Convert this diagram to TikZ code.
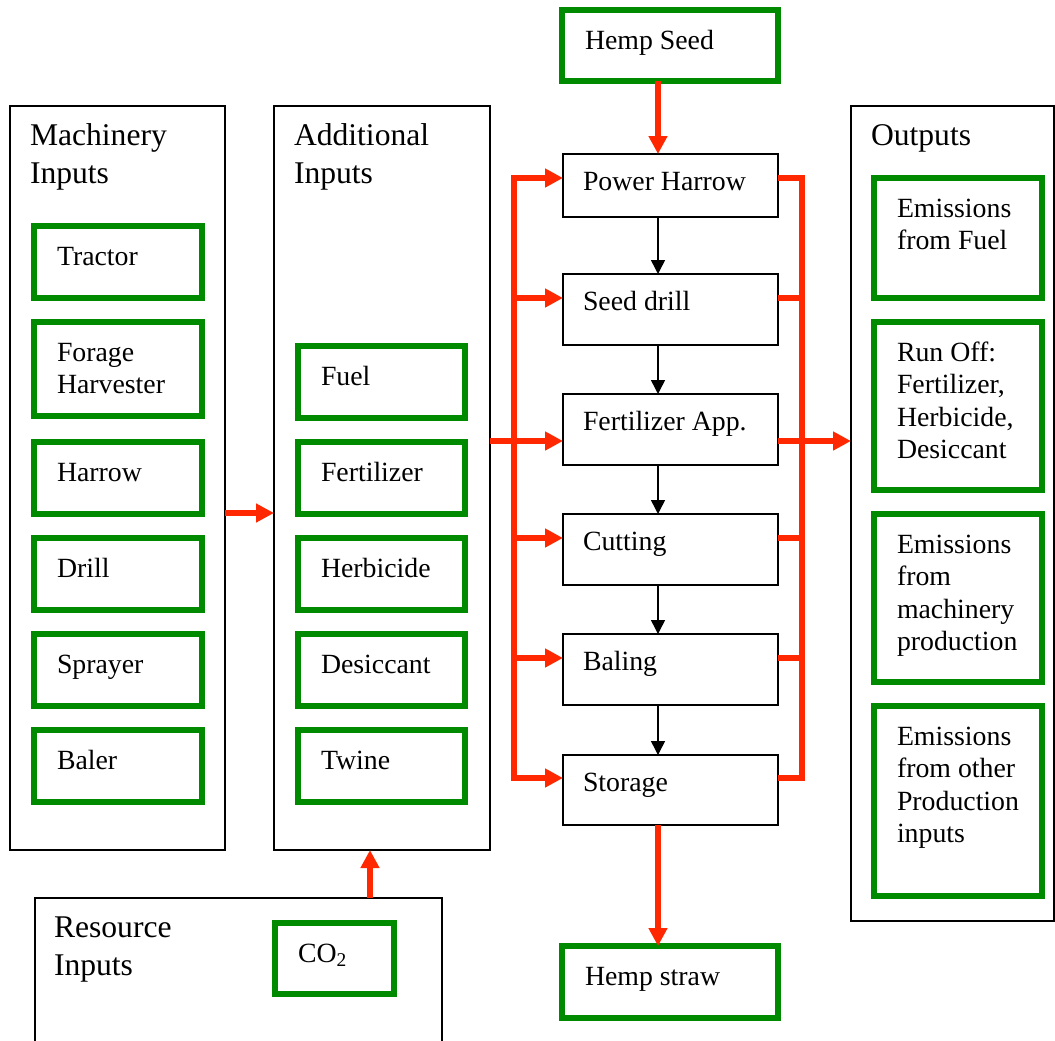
\documentclass[tikz,border=0pt]{standalone}
\usepackage{fontspec}
\setmainfont{Liberation Serif}
\usetikzlibrary{arrows.meta,calc}
\definecolor{boxgreen}{RGB}{0,138,0}
\definecolor{flowred}{RGB}{255,40,0}
% left-aligned stack of lines whose baseline is the first line's
\newcommand\stackl[1]{\begin{tabular}[t]{@{}l@{}}#1\end{tabular}}
% green item box: name, x, y (top left), width, height, text
\newcommand\gb[6]{%
  \node[gbox,minimum width=#4bp,minimum height=#5bp] (#1) at (#2,#3) {};
  \node[lbl] (#1-t) at ($(#1.north west)+(23,39)$) {#6};}
% process step box
\newcommand\pb[6]{%
  \node[pbox,minimum width=#4bp,minimum height=#5bp] (#1) at (#2,#3) {};
  \node[lbl] (#1-t) at ($(#1.north west)+(20,36)$) {#6};}
% group container with heading
\newcommand\cb[6]{%
  \node[pbox,minimum width=#4bp,minimum height=#5bp] (#1) at (#2,#3) {};
  \node[head] (#1-t) at ($(#1.north west)+(20,39)$) {#6};}
\begin{document}
\begin{tikzpicture}[x=1bp,y=-1bp,
  every node/.style={inner sep=0pt,outer sep=0pt},
  gbox/.style={draw=boxgreen,line width=6bp,anchor=north west,rectangle},
  pbox/.style={draw=black,line width=2bp,anchor=north west,rectangle},
  lbl/.style={anchor=base west,font=\fontsize{27.8bp}{32.5bp}\selectfont},
  head/.style={anchor=base west,font=\fontsize{31.6bp}{38bp}\selectfont},
  feed/.style={draw=flowred,line width=5.5bp},
  bus/.style={feed,line cap=rect},
  feedarrow/.style={feed,-{Triangle[length=18bp,width=18bp]}},
  stepflow/.style={draw=black,line width=1.5bp,-{Triangle[length=14bp,width=14bp]}}]
\useasboundingbox (0,0) rectangle (1055,1041);

% reference coordinates for the connectors
\coordinate (spine) at (658,0);
\coordinate (lbus) at (514,0);
\coordinate (rbus) at (802,0);
\coordinate (rlink) at (370,0);
\coordinate (mlink) at (0,513);
\coordinate (y1) at (0,178);
\coordinate (y2) at (0,298);
\coordinate (y3) at (0,441);
\coordinate (y4) at (0,538);
\coordinate (y5) at (0,658);
\coordinate (y6) at (0,778);

% containers
\cb{mach}{10}{106}{215}{744}{\stackl{Machinery\\Inputs}}
\cb{add}{274}{106}{216}{744}{\stackl{Additional\\Inputs}}
\cb{out}{851}{106}{203}{815}{Outputs}
\node[pbox,minimum width=407bp,minimum height=170bp] (res) at (35,898) {};
\node[head] (res-t) at ($(res.north west)+(19,39)$) {\stackl{Resource\\Inputs}};

% machinery inputs
\gb{tractor}{34}{226}{168}{72}{Tractor}
\gb{forage}{34}{322}{168}{94}{\stackl{Forage\\Harvester}}
\gb{harrow}{34}{442}{168}{72}{Harrow}
\gb{drill}{34}{538}{168}{72}{Drill}
\gb{sprayer}{34}{634}{168}{72}{Sprayer}
\gb{baler}{34}{730}{168}{72}{Baler}

% additional inputs
\gb{fuel}{298}{346}{167}{72}{Fuel}
\gb{fert}{298}{442}{167}{72}{Fertilizer}
\gb{herb}{298}{538}{167}{72}{Herbicide}
\gb{desic}{298}{634}{167}{72}{Desiccant}
\gb{twine}{298}{730}{167}{72}{Twine}

% outputs
\gb{emfuel}{874}{178}{168}{120}{\stackl{Emissions\\from Fuel}}
\gb{runoff}{874}{322}{168}{168}{\stackl{Run Off:\\Fertilizer,\\Herbicide,\\Desiccant}}
\gb{emmach}{874}{514}{168}{168}{\stackl{Emissions\\from\\machinery\\production}}
\gb{emother}{874}{706}{168}{190}{\stackl{Emissions\\from other\\Production\\inputs}}

% resource
\gb{co2}{275}{923}{119}{71}{CO\textsubscript{2}}

% seed and straw
\gb{seed}{562}{10}{216}{71}{Hemp Seed}
\gb{straw}{562}{946}{216}{72}{Hemp straw}

% process chain
\pb{ph}{563}{154}{215}{63}{Power Harrow}
\pb{sd}{563}{274}{215}{71}{Seed drill}
\pb{fa}{563}{394}{215}{71}{Fertilizer App.}
\pb{cu}{563}{514}{215}{71}{Cutting}
\pb{ba}{563}{634}{215}{71}{Baling}
\pb{st}{563}{755}{215}{70}{Storage}

% step order
\foreach \a/\b in {ph/sd,sd/fa,fa/cu,cu/ba,ba/st}
  \draw[stepflow] (\a.south -| spine) -- (\b.north -| spine);

% material flow
\draw[feedarrow] (seed.south -| spine) -- (ph.north -| spine);
\draw[feedarrow] (st.south -| spine) -- (straw.north -| spine);
\draw[feedarrow] (mach.east |- mlink) -- (add.west |- mlink);
\draw[feedarrow] (res.north -| rlink) -- (add.south -| rlink);

% input bus feeding every step
\draw[bus] (lbus |- y1) -- (lbus |- y6);
\foreach \nd/\yy in {ph/y1,sd/y2,cu/y4,ba/y5,st/y6}
  \draw[feedarrow] (lbus |- \yy) -- (\nd.west |- \yy);
\draw[feedarrow] (add.east |- y3) -- (fa.west |- y3);

% output bus collecting from every step
\draw[bus] (rbus |- y1) -- (rbus |- y6);
\foreach \nd/\yy in {ph/y1,sd/y2,cu/y4,ba/y5,st/y6}
  \draw[feed] (\nd.east |- \yy) -- (rbus |- \yy);
\draw[feedarrow] (fa.east |- y3) -- (out.west |- y3);
\end{tikzpicture}
\end{document}
